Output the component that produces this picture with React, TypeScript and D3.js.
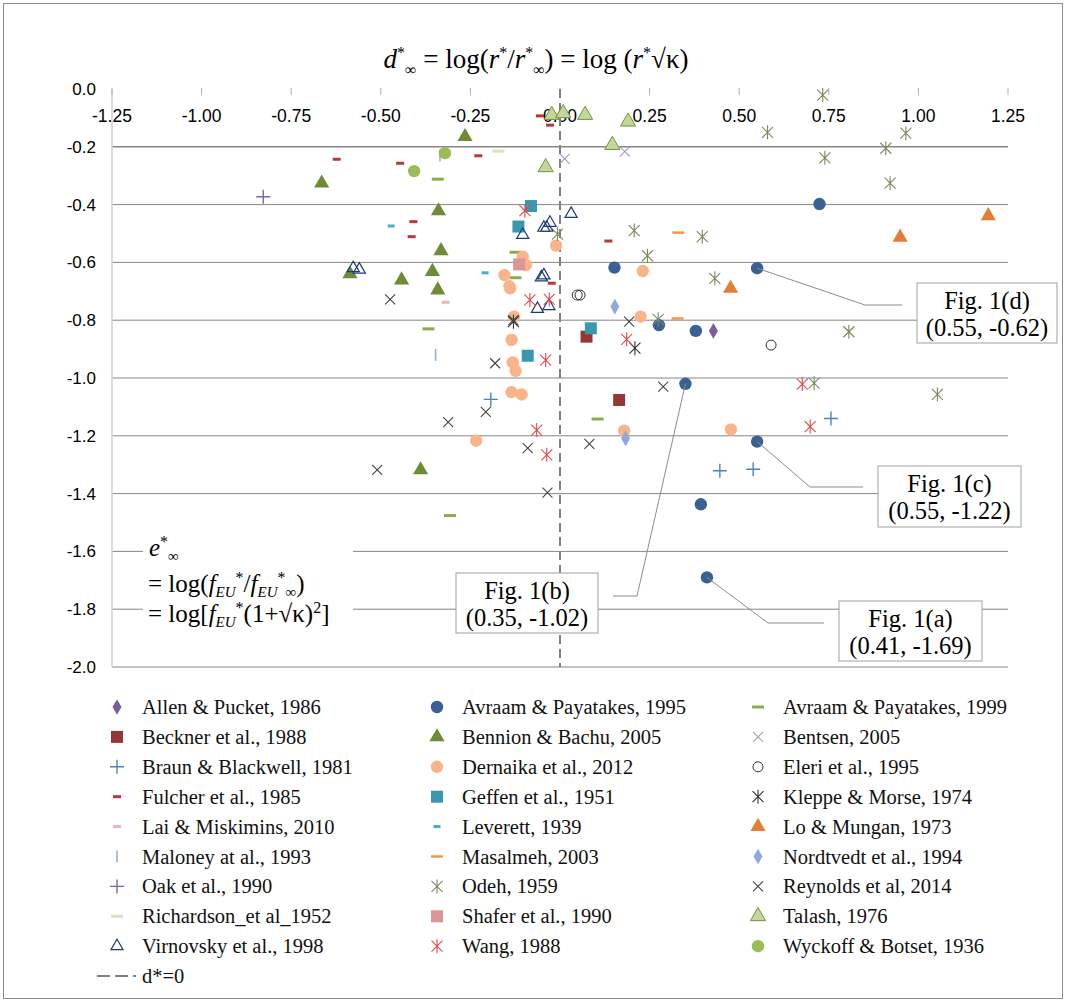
import * as d3 from "d3";

const W = 1066;
const H = 1002;

// tick values
const xTicks = [-1.25, -1.0, -0.75, -0.5, -0.25, 0, 0.25, 0.5, 0.75, 1.0, 1.25];
const yTicks = [0, -0.2, -0.4, -0.6, -0.8, -1.0, -1.2, -1.4, -1.6, -1.8, -2.0];

// data: [d*, e*]
const allenPucket1986 = [[0.428, -0.837]];
const avraam1995 = [
  [0.152, -0.618], [0.55, -0.62], [0.724, -0.398], [0.276, -0.817], [0.379, -0.837],
  [0.35, -1.02], [0.55, -1.22], [0.393, -1.437], [0.41, -1.69],
];
const avraam1999 = [
  [-0.341, -0.312], [-0.124, -0.565], [-0.124, -0.653], [-0.367, -0.83], [-0.307, -1.476], [0.105, -1.142],
];
const beckner1988 = [[0.074, -0.857], [0.165, -1.076]];
const bennion2005 = [
  [-0.665, -0.326], [-0.265, -0.165], [-0.339, -0.422], [-0.332, -0.56], [-0.356, -0.632],
  [-0.586, -0.64], [-0.442, -0.661], [-0.341, -0.696], [-0.389, -1.318],
];
const bentsen2005 = [[0.013, -0.242], [0.181, -0.217]];
const braun1981 = [[-0.193, -1.074], [0.446, -1.321], [0.539, -1.316], [0.756, -1.14]];
const dernaika2012 = [
  [-0.011, -0.542], [-0.104, -0.58], [-0.095, -0.609], [-0.155, -0.644], [-0.141, -0.682],
  [-0.139, -0.69], [-0.128, -0.788], [-0.135, -0.868], [-0.132, -0.946], [-0.124, -0.975],
  [-0.135, -1.049], [-0.107, -1.057], [-0.234, -1.217], [0.231, -0.63], [0.225, -0.788],
  [0.179, -1.182], [0.477, -1.178],
];
const eleri1995 = [[0.048, -0.713], [0.056, -0.713], [0.589, -0.886]];
const fulcher1985 = [
  [-0.623, -0.243], [-0.446, -0.257], [-0.228, -0.231], [-0.056, -0.093], [-0.028, -0.125],
  [-0.409, -0.459], [-0.414, -0.511], [0.135, -0.526], [-0.023, -0.672],
];
const geffen1951 = [[-0.081, -0.405], [-0.116, -0.476], [-0.09, -0.923], [0.086, -0.828]];
const kleppe1974 = [[-0.13, -0.805], [0.209, -0.897]];
const lai2010 = [[-0.319, -0.738]];
const leverett1939 = [[-0.471, -0.474], [-0.209, -0.636]];
const lo1973 = [[0.476, -0.69], [0.949, -0.513], [1.195, -0.439]];
const maloney1993 = [[-0.335, -0.23], [-0.347, -0.92]];
const masalmeh2003 = [[0.33, -0.497], [0.328, -0.794]];
const nordtvedt1994 = [[0.153, -0.753], [0.183, -1.209]];
const oak1990 = [[-0.828, -0.373]];
const odeh1959 = [
  [0.733, -0.021], [0.579, -0.15], [0.965, -0.153], [0.909, -0.205], [0.739, -0.238],
  [0.921, -0.326], [-0.007, -0.502], [0.207, -0.49], [0.397, -0.511], [0.244, -0.577],
  [0.432, -0.655], [0.274, -0.797], [0.806, -0.84], [0.709, -1.018], [1.053, -1.057],
];
const reynolds2014 = [
  [-0.474, -0.728], [-0.181, -0.949], [-0.207, -1.117], [-0.312, -1.153], [-0.09, -1.243],
  [-0.51, -1.318], [-0.035, -1.397], [0.193, -0.805], [0.288, -1.03], [0.082, -1.228], [-0.13, -0.8],
];
const richardson1952 = [[-0.172, -0.215]];
const shafer1990 = [[-0.114, -0.607]];
const talash1976 = [
  [-0.023, -0.09], [0.009, -0.084], [0.07, -0.09], [0.19, -0.113], [0.146, -0.194], [-0.04, -0.271],
];
const virnovsky1998 = [
  [-0.577, -0.62], [-0.56, -0.625], [-0.104, -0.505], [-0.045, -0.48], [-0.028, -0.463],
  [-0.037, -0.48], [0.031, -0.432], [-0.052, -0.652], [-0.045, -0.645], [-0.063, -0.761], [-0.031, -0.751],
];
const wang1988 = [
  [-0.098, -0.421], [-0.084, -0.73], [-0.03, -0.728], [-0.04, -0.938], [-0.065, -1.18],
  [-0.037, -1.266], [0.186, -0.866], [0.676, -1.021], [0.698, -1.168],
];
const wyckoff1936 = [[-0.407, -0.284], [-0.321, -0.222]];

const series = [
  { name: "Allen & Pucket, 1986", data: allenPucket1986, shape: "diamond", color: "#7b5d9e" },
  { name: "Avraam & Payatakes, 1995", data: avraam1995, shape: "circle", color: "#3a6194" },
  { name: "Avraam & Payatakes, 1999", data: avraam1999, shape: "dash", color: "#8cac4c", w: 12, h: 3 },
  { name: "Beckner et al., 1988", data: beckner1988, shape: "square", color: "#953735" },
  { name: "Bennion & Bachu, 2005", data: bennion2005, shape: "triangle", color: "#6e8b35" },
  { name: "Bentsen, 2005", data: bentsen2005, shape: "x", color: "#a897c8" },
  { name: "Braun & Blackwell, 1981", data: braun1981, shape: "plus", color: "#4f81bd" },
  { name: "Dernaika et al., 2012", data: dernaika2012, shape: "circle", color: "#f9b48a" },
  { name: "Eleri et al., 1995", data: eleri1995, shape: "ocircle", color: "#333333" },
  { name: "Fulcher et al., 1985", data: fulcher1985, shape: "dash", color: "#b5393a", w: 8, h: 3 },
  { name: "Geffen et al., 1951", data: geffen1951, shape: "square", color: "#3b97ae" },
  { name: "Kleppe & Morse, 1974", data: kleppe1974, shape: "star", color: "#333333" },
  { name: "Lai & Miskimins, 2010", data: lai2010, shape: "dash", color: "#e6b9b8", w: 8, h: 3 },
  { name: "Leverett, 1939", data: leverett1939, shape: "dash", color: "#4bacc6", w: 7, h: 3 },
  { name: "Lo & Mungan, 1973", data: lo1973, shape: "triangle", color: "#e47e36" },
  { name: "Maloney at al., 1993", data: maloney1993, shape: "vbar", color: "#95b3d7" },
  { name: "Masalmeh, 2003", data: masalmeh2003, shape: "dash", color: "#f79646", w: 12, h: 2.5 },
  { name: "Nordtvedt et al., 1994", data: nordtvedt1994, shape: "diamond", color: "#8eaad6" },
  { name: " Oak et al., 1990", data: oak1990, shape: "plus", color: "#8064a2" },
  { name: "Odeh, 1959", data: odeh1959, shape: "star", color: "#7a8a5a" },
  { name: "Reynolds et al, 2014", data: reynolds2014, shape: "x", color: "#444444" },
  { name: "Richardson_et al_1952", data: richardson1952, shape: "dash", color: "#d7e4bd", w: 12, h: 3 },
  { name: "Shafer et al., 1990", data: shafer1990, shape: "square", color: "#d99694" },
  { name: "Talash, 1976", data: talash1976, shape: "ltriangle", color: "#c3d69b" },
  { name: "Virnovsky et al., 1998", data: virnovsky1998, shape: "otriangle", color: "#1f3a7a" },
  { name: "Wang, 1988", data: wang1988, shape: "star", color: "#e34a4a" },
  { name: "Wyckoff & Botset, 1936", data: wyckoff1936, shape: "circle", color: "#9bbb59" },
];

const x = d3.scaleLinear().domain([-1.25, 1.25]).range([112, 1008]);
const y = d3.scaleLinear().domain([0, -2]).range([89, 667]);

const triPath = d3.symbol().type(d3.symbolTriangle).size(100)();
const diaPath = d3.symbol().type(d3.symbolDiamond).size(70)();
const oTriPath = d3.symbol().type(d3.symbolTriangle).size(64)();

function Marker({ s, cx, cy }) {
  const c = s.color;
  const t = `translate(${cx},${cy})`;
  switch (s.shape) {
    case "circle":
      return <circle cx={cx} cy={cy} r={6.2} fill={c} />;
    case "ocircle":
      return <circle cx={cx} cy={cy} r={5} fill="none" stroke={c} strokeWidth={1} />;
    case "square":
      return <rect x={cx - 6} y={cy - 6} width={12} height={12} fill={c} />;
    case "diamond":
      return <path d={diaPath} transform={t} fill={c} />;
    case "triangle":
      return <path d={triPath} transform={t} fill={c} />;
    case "ltriangle":
      return <path d={triPath} transform={t} fill={c} stroke="#77933c" strokeWidth={1} />;
    case "otriangle":
      return <path d={oTriPath} transform={t} fill="none" stroke={c} strokeWidth={1.2} />;
    case "dash":
      return <rect x={cx - s.w / 2} y={cy - s.h / 2} width={s.w} height={s.h} fill={c} />;
    case "vbar":
      return <rect x={cx - 0.8} y={cy - 6} width={1.6} height={12} fill={c} />;
    case "plus":
      return <path d="M-7,0H7M0,-7V7" transform={t} stroke={c} strokeWidth={1.4} fill="none" />;
    case "x":
      return <path d="M-5,-5L5,5M-5,5L5,-5" transform={t} stroke={c} strokeWidth={1.1} fill="none" />;
    case "star":
      return (
        <path d="M-5.5,-5.5L5.5,5.5M-5.5,5.5L5.5,-5.5M0,-7V7" transform={t} stroke={c} strokeWidth={1.1} fill="none" />
      );
    default:
      return null;
  }
}

const callouts = [
  { label: "Fig. 1(d)", coord: "(0.55, -0.62)", px: 0.55, py: -0.62, elbow: [865, 305], end: [902, 305], box: [917, 283, 140, 60] },
  { label: "Fig. 1(c)", coord: "(0.55, -1.22)", px: 0.55, py: -1.22, elbow: [810, 487], end: [863, 487], box: [878, 466, 143, 61] },
  { label: "Fig. 1(b)", coord: "(0.35, -1.02)", px: 0.35, py: -1.02, elbow: [637, 596], end: [613, 596], box: [456, 573, 142, 60] },
  { label: "Fig. 1(a)", coord: "(0.41, -1.69)", px: 0.41, py: -1.69, elbow: [768, 623], end: [824, 623], box: [839, 601, 143, 60] },
];

const serif = "'Liberation Serif', 'Times New Roman', serif";
const sans = "'Liberation Sans', Arial, sans-serif";

export default function App() {
  const legendCols = [117, 437, 758];
  const rowY = (i) => 707 + i * 29.9;

  return (
    <svg width={W} height={H} style={{ display: "block", position: "absolute", left: 0, top: 0 }}>
      <rect x={0} y={0} width={W} height={H} fill="#fff" />
      <rect x={3.5} y={3.5} width={W - 7} height={H - 7} fill="none" stroke="#8c8c8c" strokeWidth={1} />

      {/* title */}
      <text x={536} y={68} textAnchor="middle" fontFamily={serif} fontSize={27} fill="#000">
        <tspan fontStyle="italic">d</tspan>
        <tspan dy={-10} fontSize={16}>*</tspan>
        <tspan dy={17} fontSize={16}>∞</tspan>
        <tspan dy={-7}> = log(</tspan>
        <tspan fontStyle="italic">r</tspan>
        <tspan dy={-10} fontSize={16}>*</tspan>
        <tspan dy={10}>/</tspan>
        <tspan fontStyle="italic">r</tspan>
        <tspan dy={-10} fontSize={16}>*</tspan>
        <tspan dy={17} fontSize={16}>∞</tspan>
        <tspan dy={-7}>) = log (</tspan>
        <tspan fontStyle="italic">r</tspan>
        <tspan dy={-10} fontSize={16}>*</tspan>
        <tspan dy={10}>√κ)</tspan>
      </text>

      {/* gridlines */}
      {yTicks.filter((v) => v !== 0).map((v) => (
        <line key={v} x1={x(-1.25)} x2={x(1.25)} y1={y(v)} y2={y(v)} stroke="#868686" strokeWidth={v === -0.2 ? 1.6 : 1} />
      ))}
      {/* y axis */}
      <line x1={x(-1.25)} x2={x(-1.25)} y1={y(0)} y2={y(-2)} stroke="#d0d0d0" strokeWidth={1.5} />
      {yTicks.map((v) => (
        <text key={v} x={96} y={y(v) + 6} textAnchor="end" fontFamily={sans} fontSize={17} fill="#000">
          {v.toFixed(1)}
        </text>
      ))}
      {/* x axis ticks on top */}
      {xTicks.map((v) => (
        <g key={v}>
          <line x1={x(v)} x2={x(v)} y1={y(0) - 1} y2={y(0) + 6} stroke="#b0b0b0" strokeWidth={1} />
          <text x={x(v)} y={122} textAnchor="middle" fontFamily={sans} fontSize={17.5} fill="#000">
            {v.toFixed(2)}
          </text>
        </g>
      ))}

      {/* d* = 0 */}
      <line x1={x(0)} x2={x(0)} y1={y(0)} y2={y(-2)} stroke="#808080" strokeWidth={2} strokeDasharray="9,5" />

      {/* e* annotation */}
      <rect x={143} y={538} width={210} height={104} fill="#fff" />
      <text fontFamily={serif} fontSize={25} fill="#000">
        <tspan x={149} y={556} fontStyle="italic">e</tspan>
        <tspan dy={-9} fontSize={16}>*</tspan>
        <tspan dy={14} fontSize={15}>∞</tspan>
      </text>
      <text x={148} y={592} fontFamily={serif} fontSize={25} fill="#000">
        <tspan>= log(</tspan>
        <tspan fontStyle="italic">f</tspan>
        <tspan dy={5} fontSize={15} fontStyle="italic">EU</tspan>
        <tspan dy={-14} fontSize={16}>*</tspan>
        <tspan dy={9}>/</tspan>
        <tspan fontStyle="italic">f</tspan>
        <tspan dy={5} fontSize={15} fontStyle="italic">EU</tspan>
        <tspan dy={-14} fontSize={16}>*</tspan>
        <tspan dy={14} fontSize={15}>∞</tspan>
        <tspan dy={-5}>)</tspan>
      </text>
      <text x={148} y={622} fontFamily={serif} fontSize={25} fill="#000">
        <tspan>= log[</tspan>
        <tspan fontStyle="italic">f</tspan>
        <tspan dy={5} fontSize={15} fontStyle="italic">EU</tspan>
        <tspan dy={-14} fontSize={16}>*</tspan>
        <tspan dy={9}>(1+√κ)</tspan>
        <tspan dy={-9} fontSize={16}>2</tspan>
        <tspan dy={9}>]</tspan>
      </text>

      {/* series */}
      {series.map((s) => (
        <g key={s.name}>
          {s.data.map((d, i) => (
            <Marker key={i} s={s} cx={x(d[0])} cy={y(d[1])} />
          ))}
        </g>
      ))}

      {/* callouts */}
      {callouts.map((c) => {
        const [bx, by, bw, bh] = c.box;
        return (
          <g key={c.label}>
            <polyline
              points={`${x(c.px)},${y(c.py)} ${c.elbow[0]},${c.elbow[1]} ${c.end[0]},${c.end[1]}`}
              fill="none"
              stroke="#8c8c8c"
              strokeWidth={1}
            />
            <rect x={bx} y={by} width={bw} height={bh} fill="#fff" stroke="#a0a0a0" strokeWidth={1} />
            <text x={bx + bw / 2} y={by + 26} textAnchor="middle" fontFamily={serif} fontSize={24.5} fill="#000">
              {c.label}
            </text>
            <text x={bx + bw / 2} y={by + 53} textAnchor="middle" fontFamily={serif} fontSize={24.5} fill="#000">
              {c.coord}
            </text>
          </g>
        );
      })}

      {/* legend */}
      {series.map((s, i) => {
        const col = i % 3;
        const row = Math.floor(i / 3);
        const mx = legendCols[col];
        const my = rowY(row);
        return (
          <g key={s.name}>
            <Marker s={s} cx={mx} cy={my} />
            <text x={mx + 25} y={my + 7} fontFamily={serif} fontSize={20.5} fill="#111">
              {s.name}
            </text>
          </g>
        );
      })}
      <line x1={97} x2={136} y1={rowY(9)} y2={rowY(9)} stroke="#808080" strokeWidth={2} strokeDasharray="13,5" />
      <text x={142} y={rowY(9) + 7} fontFamily={serif} fontSize={20.5} fill="#111">
        d*=0
      </text>
    </svg>
  );
}
